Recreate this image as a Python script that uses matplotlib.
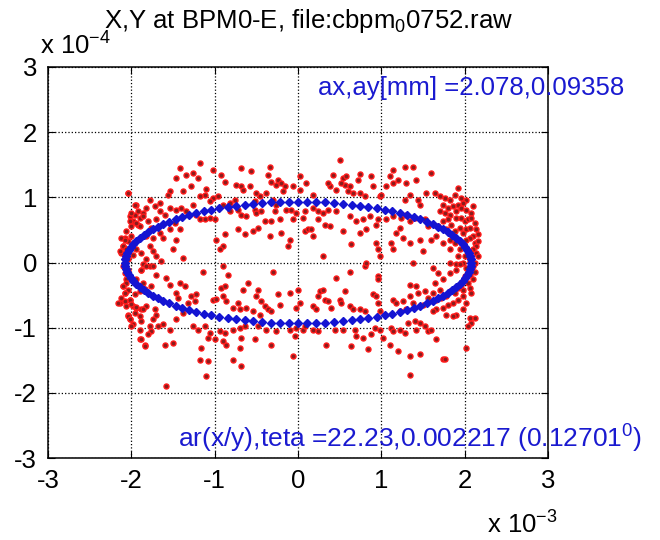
import numpy as np
import matplotlib
matplotlib.use('Agg')
from matplotlib import pyplot as plt

plt.rcParams['font.family'] = ['Liberation Sans', 'DejaVu Sans']
plt.rcParams['mathtext.default'] = 'regular'
plt.rcParams['axes.unicode_minus'] = False

red_x = [-1.42, -1.34, -1.46, -1.54, -1.56, -1.38, -2.04, -1.66, -1.72, -1.82, -1.94, -1.78, -1.86, -1.96, -2.02, -1.90,
         -1.98, -1.92, -2.00, -1.54, -1.46, -1.40, -1.34, -1.60, -1.66, -1.80, -1.70, -1.76, -1.48, -1.54, -1.42, -1.66,
         -1.62, -1.74, -1.82, -2.08, -2.04, -2.10, -2.06, -2.12, -2.08, -1.98, -1.94, -1.88, -1.78, -1.74, -1.82, -1.70,
         -1.38, -1.50, -1.46, -1.78, -1.86,
         -2.10, -2.08, -2.06, -2.10, -2.04, -2.08, -1.88, -1.82, -1.74, -1.64, -1.70, -1.58, -1.54, -1.86, -1.76, -1.90,
         -1.42, -1.36, -1.46, -1.44, -2.14, -2.08, -2.02, -1.98, -1.94, -1.88, -1.82, -2.04, -2.02, -1.98, -1.88, -1.72,
         -1.70, -1.74, -1.78, -1.76, -1.80, -1.68, -1.62, -1.54, -1.46, -1.38, -1.32, -1.60, -1.90, -1.84, -1.58, -1.50,
         -2.04, -1.96, -2.00, -1.92, -1.86, -2.02, -1.94, -1.90, -2.06, -2.12, -2.08, -2.00, -2.10, -2.14, -2.06, -1.98,
         -2.04, -1.88, -1.94, -2.06, -2.10, -2.08, -2.12, -2.02, -2.06, -2.00, -1.94, -1.96, -1.86, -1.90, -2.04, -2.16,
         -2.02, -2.00, -1.90, -1.88, -1.84, -2.04, -1.96, -1.84,
         -1.18, -1.26, -1.20, -1.28, -1.10, -1.12, -1.18, -1.02, -0.96, -1.06, -1.26, -0.90, -0.82, -0.76, -0.68, -0.66,
         -0.56, -0.68, -0.92, -0.88, -1.02, -0.74, -0.58, -0.50, -0.46, -0.52, -0.34, -0.36, -0.32, -0.24, -0.20, -0.26,
         -0.16, -0.06, 0.02, 0.02, 0.10, -0.18, -0.38, -0.30, -0.26, -1.22, -1.18, -1.12, -1.06, -1.00, -0.82, -0.72,
         -0.68, -0.62, -0.52, -0.50, -0.44, -0.28, -0.14, -0.08, -0.02, 0.08, 0.06, -0.06, -0.22, -0.32, -0.40, -0.72,
         -0.64, -0.54, -0.48, -0.34, -0.20, -0.10, 0.08, 0.12, -0.98, -0.88, -0.90, -0.94, -0.12, -0.90,
         -1.14, -0.84, -0.30, -1.22, -1.28, -1.24, -1.02, -0.98, -0.92, -0.88, -0.90, -0.86, -0.78, -0.72, -0.66, -0.60,
         -0.48, -0.50, -0.44, -0.40, -0.36, -0.32, -0.46, -0.54, -0.62, -0.70, -0.24, -0.22, -0.10, 0.00, -0.02, 0.02,
         -1.26, -1.20, -1.12, -1.06, -0.94, -0.88, -0.78, -0.70, -0.64, -0.48, -0.38, -0.26, -0.10, -0.02, 0.06, 0.08,
         -1.16, -1.08, -1.00, -0.90, -0.86, -0.68, -0.52, -0.32, -0.70, -0.78, -0.68, -1.18, -1.08, -1.10, -0.06, -0.04,
         0.50, 0.42, 0.54, 0.58, 0.56, 0.52, 0.74, 0.72, 0.62, 0.60, 0.38, 0.36, 0.46, 0.66, 0.74, 0.88,
         0.90, 0.80, 0.98, 1.00, 1.06, 1.14, 1.10, 1.14, 1.20, 1.28, 1.38, 1.30, 1.42, 1.34, 1.28, 1.44,
         1.46, 1.54, 0.18, 0.18, 0.24, 0.30, 0.36, 0.46, 0.24, 0.32, 0.38, 0.54, 0.62, 0.70, 0.78, 0.86,
         0.96, 0.94, 1.06, 1.14, 1.24, 1.30, 1.34, 1.40, 1.22, 1.18, 1.26, 1.12, 1.14, 1.34, 1.46, 1.50,
         1.56, 1.52, 0.18, 0.30, 0.64, 0.74, 0.82, 0.94, 0.96, 0.98, 0.80, 0.16,
         0.82, 0.62, 0.46, 0.96, 1.38, 0.26, 0.24, 0.30, 0.18, 0.22, 0.32, 0.36, 0.40, 0.50, 0.52, 0.56,
         0.62, 0.66, 0.74, 0.80, 0.90, 0.94, 0.96, 0.98, 1.14, 1.18, 1.26, 1.22, 1.34, 1.42, 1.44, 1.52,
         1.34, 1.38, 1.50, 1.56, 1.30, 0.18, 0.24, 0.44, 0.54, 0.68, 0.70, 0.78, 0.88, 0.92, 0.98, 1.02,
         1.12, 1.14, 1.22, 1.28, 1.32, 1.40, 1.46, 1.52, 1.42, 1.56, 0.34, 0.64, 0.84, 1.10, 1.20, 1.34,
         1.46, 1.34, 0.96,
         1.60, 1.64, 1.70, 1.76, 1.82, 1.88, 1.92, 1.96, 2.02, 1.98, 1.74, 1.80, 1.86, 1.92, 1.70, 1.76,
         1.82, 1.90, 1.96, 2.02, 2.08, 2.10, 1.74, 1.80, 1.84, 1.90, 1.96, 2.00, 2.04, 2.08, 2.12, 1.68,
         1.78, 1.88, 1.94, 1.98, 2.02, 2.06, 2.14, 2.16, 2.10, 2.06, 2.02, 2.12, 2.16, 2.14, 2.10, 2.06,
         2.14, 2.16, 2.08, 2.12, 2.00, 1.94, 1.88, 1.82, 1.92, 1.98, 1.60, 1.66, 1.82, 1.90, 1.82, 1.74,
         2.06, 2.10, 2.02, 2.12, 2.06, 2.00, 2.10, 2.04, 1.96, 1.92, 1.98, 2.06, 1.88, 1.82, 1.78, 1.72,
         1.66, 1.62, 1.70, 1.64, 1.74, 1.68, 1.62, 1.82, 1.90, 1.94, 1.98, 1.92, 1.86, 1.80, 1.74, 1.66,
         1.62, 1.78, 1.90, 1.98, 2.02, 2.08, 1.86, 2.06, 2.12, 2.08, 2.04, 1.60, 1.66, 2.02, 1.74, 1.76]
red_y = [1.45, 1.35, 1.30, 1.09, 1.04, 1.09, 1.07, 0.91, 0.86, 0.84, 0.89, 0.96, 0.76, 0.73, 0.71, 0.68,
         0.63, 0.58, 0.56, 0.84, 0.81, 0.84, 0.79, 0.73, 0.79, 0.63, 0.66, 0.53, 0.61, 0.51, 0.51, 0.45,
         0.38, 0.38, 0.40, 0.38, 0.33, 0.25, 0.20, 0.15, 0.10, 0.28, 0.20, 0.15, 0.25, 0.17, 0.05, 0.10,
         0.07, 0.20, 0.35, -0.06, -0.03,
         -0.06, -0.16, -0.26, -0.36, -0.42, -0.47, -0.11, -0.06, -0.06, 0.02, -0.19, -0.24, -0.34, -0.31, -0.36, -0.44,
         -0.31, -0.36, -0.47, -0.54, -0.62, -0.59, -0.57, -0.67, -0.70, -0.72, -0.67, -0.80, -0.87, -0.95, -0.90, -0.72,
         -0.80, -0.87, -0.98, -1.05, -1.10, -0.98, -0.95, -1.03, -0.87, -0.77, -0.62, -1.26, -1.18, -1.26, -1.89, -1.23,
         1.07, 0.89, 0.76, 0.79, 0.71, 0.63, 0.61, 0.56, 0.48, 0.38, 0.35, 0.40, 0.25, 0.17, 0.20, 0.12,
         0.05, -0.11, -0.26, -0.31, -0.36, -0.47, -0.54, -0.57, -0.67, -0.64, -0.69, -0.77, -0.72, -0.82, -0.82, -0.62,
         -0.87, -0.98, -1.03, -1.18, -1.28, -0.11, -0.49, -0.41,
         1.52, 1.37, 1.30, 1.17, 1.13, 1.04, 1.02, 0.99, 1.02, 0.94, 0.89, 0.89, 0.91, 0.96, 1.17, 1.12,
         1.40, 1.45, 1.35, 1.24, 1.42, 1.19, 1.17, 1.07, 1.02, 0.94, 1.47, 1.35, 1.24, 1.27, 1.22, 1.19,
         1.17, 1.17, 1.32, 1.12, 1.22, 1.09, 1.07, 0.96, 0.89, 0.73, 0.66, 0.66, 0.68, 0.66, 0.79, 0.81,
         0.73, 0.71, 0.81, 0.76, 0.79, 0.79, 0.81, 0.81, 0.76, 0.79, 0.68, 0.66, 0.66, 0.63, 0.63, 0.51,
         0.43, 0.48, 0.53, 0.40, 0.45, 0.35, 0.48, 0.51, 0.35, 0.43, 0.25, 0.20, 0.25, -0.06,
         -0.14, -0.19, -0.15, -0.49, -0.52, -0.59, -0.57, -0.56, -0.39, -0.36, -0.52, -0.59, -0.70, -0.62, -0.42, -0.31,
         -0.42, -0.52, -0.59, -0.67, -0.72, -0.75, -0.80, -0.75, -0.70, -0.72, -0.49, -0.65, -0.47, -0.42, -0.70, -0.62,
         -0.98, -1.03, -0.98, -1.08, -1.05, -1.08, -1.03, -1.00, -0.98, -0.98, -1.03, -1.05, -1.03, -1.00, -1.03, -0.98,
         -1.31, -1.16, -1.18, -1.21, -1.26, -1.16, -1.18, -1.26, -1.31, -1.49, -1.59, -1.49, -1.51, -1.74, -1.44, -1.13,
         1.58, 1.35, 1.30, 1.32, 1.19, 1.22, 1.36, 1.27, 1.17, 1.09, 1.17, 1.22, 1.12, 1.07, 1.07, 1.32,
         1.17, 1.02, 1.02, 1.04, 1.17, 1.22, 1.32, 1.42, 1.27, 1.47, 1.47, 1.22, 1.27, 1.04, 0.96, 0.96,
         0.89, 1.07, 1.04, 0.84, 0.79, 0.76, 0.81, 0.79, 0.66, 0.58, 0.56, 0.48, 0.71, 0.63, 0.66, 0.71,
         0.66, 0.58, 0.66, 0.71, 0.68, 0.73, 0.63, 0.68, 0.53, 0.45, 0.38, 0.30, 0.20, 0.30, 0.35, 0.17,
         0.56, 0.66, 0.40, 0.10, 0.28, 0.45, 0.51, 0.30, 0.20, 0.10, -0.06, 0.51,
         -0.01, -0.14, -0.24, -0.21, -0.01, -0.44, -0.52, -0.42, -0.67, -0.72, -0.57, -0.59, -0.70, -0.57, -0.62, -0.44,
         -0.67, -0.72, -0.72, -0.75, -0.49, -0.52, -0.62, -0.75, -0.57, -0.62, -0.59, -0.75, -0.34, -0.36, -0.47, -0.44,
         -0.52, -0.62, -0.65, -0.54, -0.72, -1.03, -1.05, -1.03, -1.03, -1.03, -1.13, -1.16, -1.10, -1.00, -1.03, -1.16,
         -1.00, -1.05, -1.03, -1.08, -0.93, -0.90, -0.93, -0.98, -1.03, -1.05, -1.26, -1.28, -1.33, -1.26, -1.36, -1.44,
         -1.41, -1.72, -0.26,
         1.37, 1.07, 1.02, 0.99, 0.96, 1.04, 1.14, 0.99, 0.96, 0.91, 0.89, 0.84, 0.86, 0.89, 0.79, 0.76,
         0.73, 0.79, 0.84, 0.81, 0.76, 0.86, 0.63, 0.66, 0.58, 0.68, 0.68, 0.63, 0.66, 0.68, 0.61, 0.56,
         0.51, 0.48, 0.53, 0.45, 0.51, 0.53, 0.51, 0.43, 0.40, 0.38, 0.35, 0.30, 0.33, 0.25, 0.20, 0.17,
         0.15, 0.10, 0.07, -0.01, 0.10, 0.20, 0.30, 0.35, 0.10, -0.01, 0.35, 0.40, 0.20, -0.03, -0.01, 0.30,
         0.02, -0.06, -0.08, -0.14, -0.19, -0.21, -0.26, -0.31, -0.34, -0.39, -0.42, -0.39, -0.47, -0.44, -0.52, -0.54,
         -0.57, -0.47, -0.42, -0.31, -0.26, -0.16, -0.08, -0.16, -0.11, -0.03, -0.52, -0.57, -0.62, -0.65, -0.70, -0.72,
         -0.75, -0.80, -0.80, -0.72, -0.62, -0.47, -0.82, -0.85, -0.85, -0.93, -0.98, -1.03, -1.18, -1.31, -1.48, -1.48]

# fitted ellipse points, same units
blue_x = [2.078, 2.075, 2.067, 2.052, 2.033, 2.007, 1.976, 1.940, 1.898, 1.852, 1.800, 1.743, 1.681, 1.615, 1.544,
          1.469, 1.390, 1.308, 1.221, 1.132, 1.039, 0.943, 0.845, 0.745, 0.642, 0.538, 0.432, 0.325, 0.217, 0.109,
          0.000, -0.109, -0.217, -0.325, -0.432, -0.538, -0.642, -0.745, -0.845, -0.943, -1.039, -1.132, -1.221, -1.308, -1.390,
          -1.469, -1.544, -1.615, -1.681, -1.743, -1.800, -1.852, -1.898, -1.940, -1.976, -2.007, -2.033, -2.052, -2.067, -2.075,
          -2.078, -2.075, -2.067, -2.052, -2.033, -2.007, -1.976, -1.940, -1.898, -1.852, -1.800, -1.743, -1.681, -1.615, -1.544,
          -1.469, -1.390, -1.308, -1.221, -1.132, -1.039, -0.943, -0.845, -0.745, -0.642, -0.538, -0.432, -0.325, -0.217, -0.109,
          0.000, 0.109, 0.217, 0.325, 0.432, 0.538, 0.642, 0.745, 0.845, 0.943, 1.039, 1.132, 1.221, 1.308, 1.390,
          1.469, 1.544, 1.615, 1.681, 1.743, 1.800, 1.852, 1.898, 1.940, 1.976, 2.007, 2.033, 2.052, 2.067, 2.075]
blue_y = [0.000, 0.049, 0.098, 0.146, 0.195, 0.242, 0.289, 0.335, 0.381, 0.425, 0.468, 0.510, 0.550, 0.589, 0.626,
          0.662, 0.695, 0.727, 0.757, 0.785, 0.810, 0.834, 0.855, 0.874, 0.890, 0.904, 0.915, 0.924, 0.931, 0.935,
          0.936, 0.935, 0.931, 0.924, 0.915, 0.904, 0.890, 0.874, 0.855, 0.834, 0.810, 0.785, 0.757, 0.727, 0.695,
          0.662, 0.626, 0.589, 0.550, 0.510, 0.468, 0.425, 0.381, 0.335, 0.289, 0.242, 0.195, 0.146, 0.098, 0.049,
          0.000, -0.049, -0.098, -0.146, -0.195, -0.242, -0.289, -0.335, -0.381, -0.425, -0.468, -0.510, -0.550, -0.589, -0.626,
          -0.662, -0.695, -0.727, -0.757, -0.785, -0.810, -0.834, -0.855, -0.874, -0.890, -0.904, -0.915, -0.924, -0.931, -0.935,
          -0.936, -0.935, -0.931, -0.924, -0.915, -0.904, -0.890, -0.874, -0.855, -0.834, -0.810, -0.785, -0.757, -0.727, -0.695,
          -0.662, -0.626, -0.589, -0.550, -0.510, -0.468, -0.425, -0.381, -0.335, -0.289, -0.242, -0.195, -0.146, -0.098, -0.049]

ticks = [-3, -2, -1, 0, 1, 2, 3]
title = 'X,Y at BPM0-E, file:cbpm$_0$0752.raw'
txt_top = 'ax,ay[mm] =2.078,0.09358'
txt_bot = 'ar(x/y),teta =22.23,0.002217 (0.12701$^0$)'

fs = 18.5
fig = plt.figure(figsize=(6.6, 5.4), dpi=100)
ax = fig.add_axes([48/660, 1 - 458/540, 500/660, 391/540])

ax.plot(red_x, red_y, 'o', ms=3.6, mfc='#8a1c1c', mec='#ff1a1a', mew=1.0, ls='none')
ax.plot(blue_x, blue_y, 'D', ms=4, color='#1414d2', mec='#1414d2', ls='none')

ax.set_xlim(-3, 3)
ax.set_ylim(-3, 3)
ax.set_xticks(ticks)
ax.set_yticks(ticks)
ax.grid(True, linestyle=':', color='black', linewidth=0.9)
ax.tick_params(direction='in', top=True, right=True, labelsize=fs, length=5, pad=8)
for s in ax.spines.values():
    s.set_linewidth(1.1)

fig.text(0.468, 0.962, title, ha='center', va='center', fontsize=fs)
fig.text(40/660, 1 - 46/540, 'x 10$^{-4}$', ha='left', va='center', fontsize=fs)
fig.text(487/660, 1 - 525/540, 'x 10$^{-3}$', ha='left', va='center', fontsize=fs)
ax.text(0.24, 2.68, txt_top, color='#1a1ad0', fontsize=fs, va='center', ha='left', clip_on=False)
ax.text(-1.44, -2.71, txt_bot, color='#1a1ad0', fontsize=fs + 0.5, va='center', ha='left', clip_on=False)

fig.savefig('out.png', dpi=100)
